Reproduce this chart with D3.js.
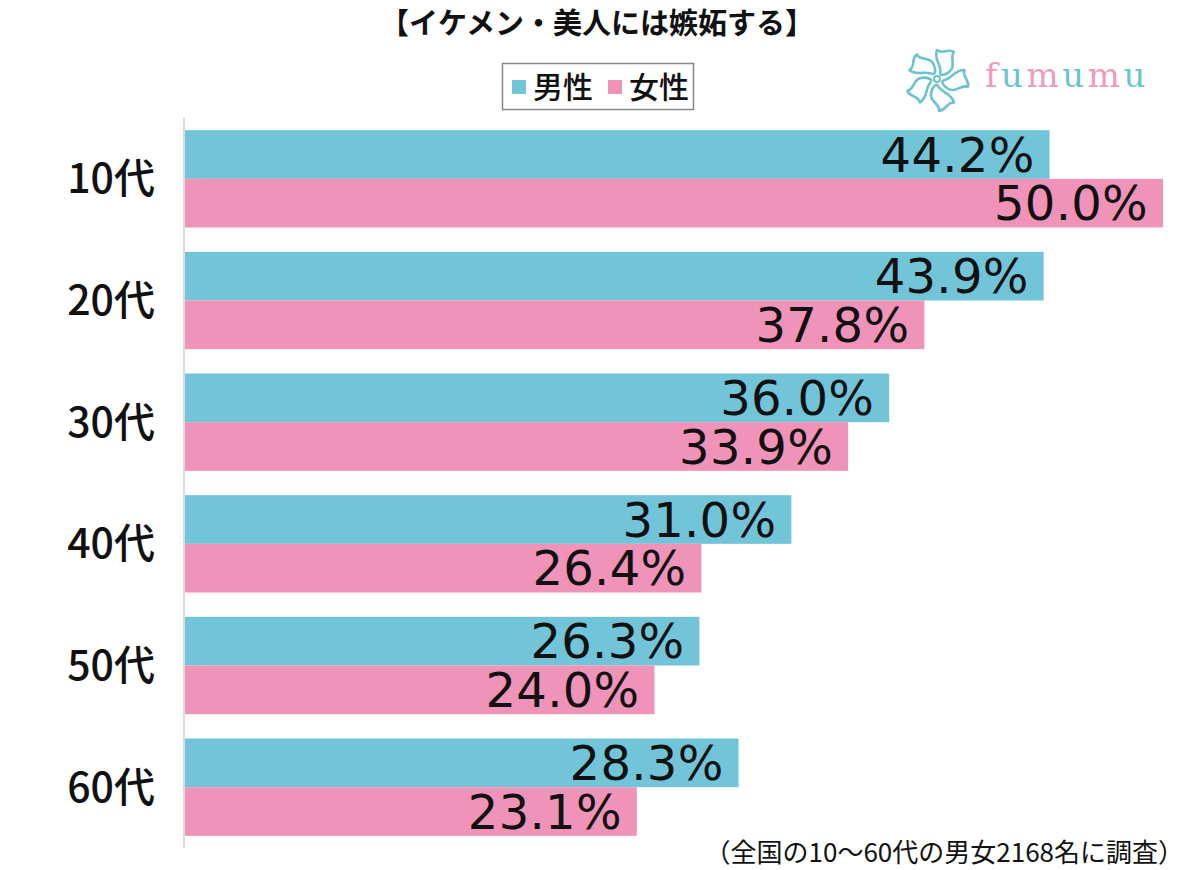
<!DOCTYPE html>
<html><head><meta charset="utf-8">
<script src="https://cdn.jsdelivr.net/npm/d3@7/dist/d3.min.js"></script>
<style>body{margin:0;background:#fff}svg{display:block}</style>
</head><body>
<svg id="c" width="1200" height="870"></svg>
<script>
const categories = ["10代","20代","30代","40代","50代","60代"];
const seriesNames = ["男性","女性"];
const maleValues = [44.2, 43.9, 36.0, 31.0, 26.3, 28.3];
const femaleValues = [50.0, 37.8, 33.9, 26.4, 24.0, 23.1];
const title = "【イケメン・美人には嫉妬する】";
const note = "（全国の10～60代の男女2168名に調査）";
const colors = ["#72C5D8", "#EF93B9"];

const svg = d3.select("#c");
const JP = "'Noto Sans CJK JP','Noto Sans',sans-serif";

const x = d3.scaleLinear().domain([0, 50]).range([185, 1163]);
const y = d3.scaleBand().domain(categories).range([118, 848]).paddingInner(0.2).paddingOuter(0.1);
const y1 = d3.scaleBand().domain(seriesNames).range([0, y.bandwidth()]);

const data = categories.map((c, i) => ({cat: c, vals: [maleValues[i], femaleValues[i]]}));

const g = svg.append("g");
const groups = g.selectAll("g.grp").data(data).join("g")
  .attr("transform", d => `translate(0,${y(d.cat)})`);

groups.selectAll("rect").data(d => d.vals.map((v, k) => ({v, k})))
  .join("rect")
  .attr("x", x(0))
  .attr("y", d => y1(seriesNames[d.k]))
  .attr("width", d => x(d.v) - x(0))
  .attr("height", y1.bandwidth())
  .attr("fill", d => colors[d.k]);

groups.selectAll("text.val").data(d => d.vals.map((v, k) => ({v, k})))
  .join("text")
  .attr("class", "val")
  .attr("x", d => x(d.v) - 15)
  .attr("y", d => y1(seriesNames[d.k]) + y1.bandwidth() / 2)
  .attr("dy", "0.36em")
  .attr("text-anchor", "end")
  .attr("font-family", "'DejaVu Sans',sans-serif")
  .attr("font-size", 48)
  .attr("letter-spacing", 0.3)
  .attr("fill", "#111")
  .text(d => d.v.toFixed(1) + "%");

// axis
const yAxis = d3.axisLeft(y).tickSize(0).tickPadding(29);
const ax = svg.append("g").attr("transform", `translate(184,0)`).call(yAxis);
ax.select(".domain").attr("stroke", "#cfcfcf").attr("stroke-width", 1.5).attr("d", "M0,118V848");
ax.selectAll(".tick text")
  .attr("font-family", JP)
  .attr("font-size", 41)
  .attr("font-weight", 500)
  .attr("fill", "#111")
  .attr("dy", "0.35em");

// title
svg.append("text").attr("x", 597).attr("y", 34).attr("text-anchor", "middle")
  .attr("font-family", JP).attr("font-size", 29).attr("font-weight", 700).attr("fill", "#111")
  .text(title);

// legend
svg.append("rect").attr("x", 502.5).attr("y", 63.5).attr("width", 191).attr("height", 46)
  .attr("fill", "#fff").attr("stroke", "#888").attr("stroke-width", 1.5);
const legX = [512, 608];
seriesNames.forEach((n, i) => {
  svg.append("rect").attr("x", legX[i]).attr("y", 80).attr("width", 14).attr("height", 14).attr("fill", colors[i]);
  svg.append("text").attr("x", legX[i] + 21).attr("y", 87).attr("dy", "0.36em")
    .attr("font-family", JP).attr("font-size", 30).attr("font-weight", 500).attr("fill", "#111").text(n);
});

// footnote
svg.append("text").attr("x", 1184).attr("y", 853).attr("dy", "0.36em").attr("text-anchor", "end")
  .attr("font-family", JP).attr("font-size", 26).attr("fill", "#111").text(note);

// logo
const logo = svg.append("g").attr("transform", "translate(937,79)");
for (let k = 0; k < 5; k++) {
  logo.append("path")
    .attr("transform", `rotate(${k * 72})`)
    .attr("d", "M3,-5 C6,-12 -4,-20 0,-29 C6,-24 10,-31 17,-27 C12,-21 20,-13 12,-7 C8,-4 5,-3 3,-5")
    .attr("fill", "none").attr("stroke", "#6CC3CF").attr("stroke-width", 2.6).attr("stroke-linejoin", "round");
}
logo.append("circle").attr("r", 3).attr("fill", "none").attr("stroke", "#6CC3CF").attr("stroke-width", 2);
const letters = "fumumu".split("");
const lt = svg.append("text").attr("x", 985).attr("y", 87)
  .attr("font-family", "'DejaVu Serif',serif").attr("font-size", 34).attr("letter-spacing", 3.5);
letters.forEach((ch, i) => lt.append("tspan").attr("fill", i % 2 === 0 ? "#EE9CBE" : "#6CC3CF").text(ch));
</script>
</body></html>
